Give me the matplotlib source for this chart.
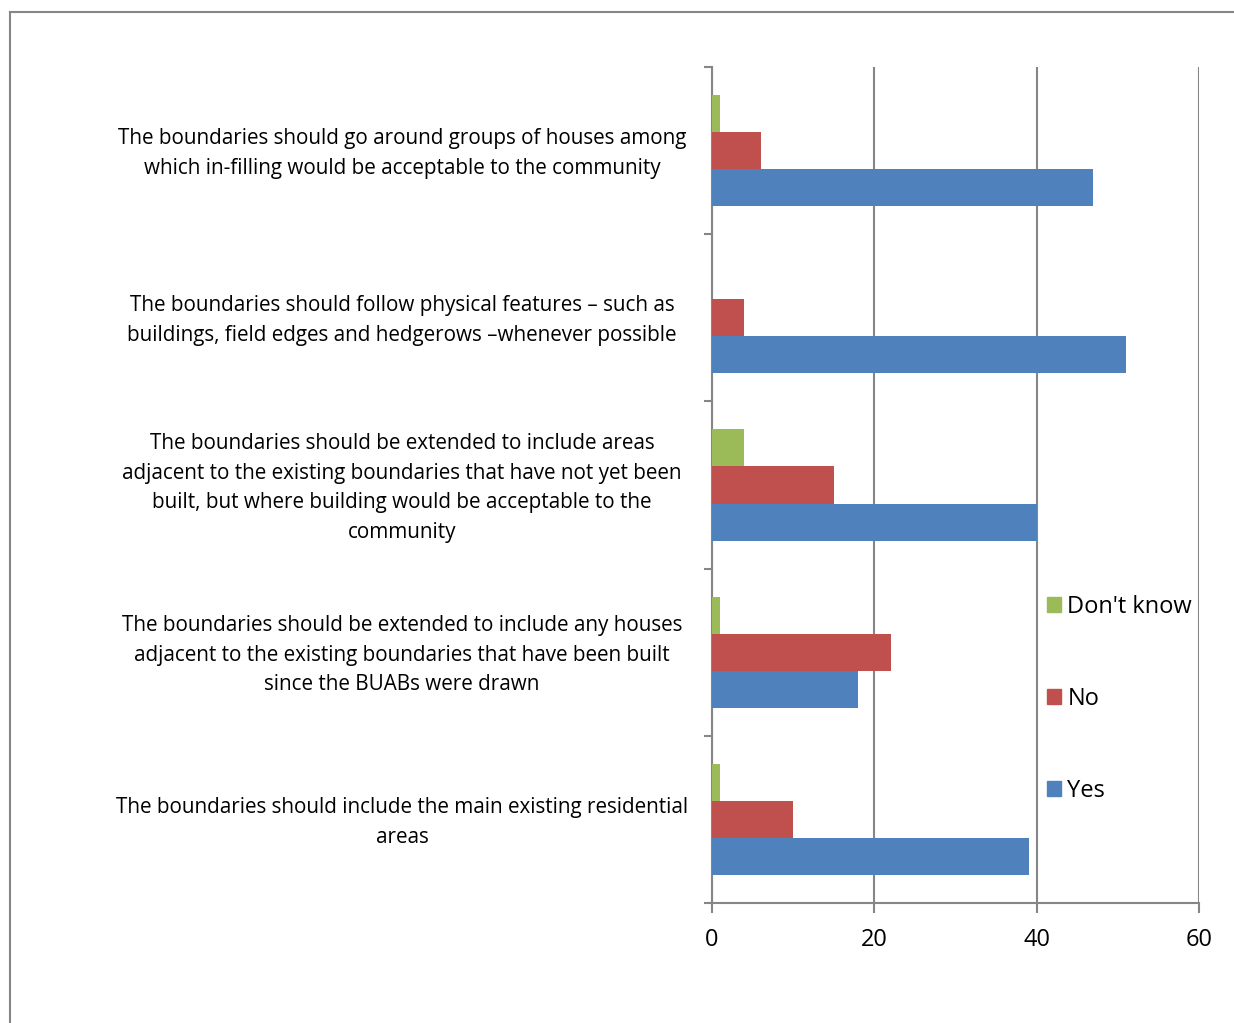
import numpy as np
import matplotlib.pyplot as plt
from matplotlib.patches import Patch
from matplotlib.lines import Line2D
from matplotlib.transforms import ScaledTranslation

plt.rcParams['font.family'] = ['Open Sans', 'DejaVu Sans']

statements = [
    "The boundaries should go around groups of houses among\nwhich in-filling would be acceptable to the community",
    "The boundaries should follow physical features \u2013 such as\nbuildings, field edges and hedgerows \u2013whenever possible",
    "The boundaries should be extended to include areas\nadjacent to the existing boundaries that have not yet been\nbuilt, but where building would be acceptable to the\ncommunity",
    "The boundaries should be extended to include any houses\nadjacent to the existing boundaries that have been built\nsince the BUABs were drawn",
    "The boundaries should include the main existing residential\nareas",
]
yes = [47, 51, 40, 18, 39]
no = [6, 4, 15, 22, 10]
dont_know = [1, 0, 4, 1, 1]

c_yes = '#4f81bd'
c_no = '#c0504d'
c_dk = '#9bbb59'
grey = '#868686'

W, H = 1234, 1023
fig = plt.figure(figsize=(W / 100, H / 100), dpi=100)
ax = fig.add_axes([712 / W, 1 - 903 / H, (1199 - 712) / W, (903 - 67) / H])

# outer chart frame, only top-left corner is on the canvas
fig.add_artist(Line2D([10 / W, 1.0], [1 - 12 / H, 1 - 12 / H], transform=fig.transFigure,
                      color=grey, lw=1.5))
fig.add_artist(Line2D([10 / W, 10 / W], [1 - 12 / H, 0.0], transform=fig.transFigure,
                      color=grey, lw=1.5))

y = np.arange(len(statements))
h = 0.222
ax.barh(y + h, yes, height=h, color=c_yes, label='Yes', zorder=3)
ax.barh(y, no, height=h, color=c_no, label='No', zorder=3)
ax.barh(y - h, dont_know, height=h, color=c_dk, label="Don't know", zorder=3)

ax.set_xlim(0, 60)
ax.set_ylim(len(statements) - 0.5, -0.5)
ax.set_xticks([0, 20, 40, 60])
ax.tick_params(axis='x', length=7, width=1.5, color=grey, labelsize=17, pad=11)
ax.xaxis.grid(True, color=grey, lw=1.5, zorder=1)

ax.set_yticks(np.arange(len(statements) + 1) - 0.5)
ax.set_yticklabels([])
ax.set_yticks(y, minor=True)
ax.set_yticklabels(statements, minor=True, multialignment='center', fontsize=14.9,
                   linespacing=1.55)
ax.tick_params(axis='y', which='major', length=6, width=1.5, color=grey)
ax.tick_params(axis='y', which='minor', length=0, pad=0)
nudge = ScaledTranslation(0, -3 / 100, fig.dpi_scale_trans)
for lbl in ax.get_yticklabels(minor=True):
    lbl.set_horizontalalignment('center')
    lbl.set_verticalalignment('center')
    lbl.set_x((402 - 712) / (1199 - 712))
    lbl.set_transform(lbl.get_transform() + nudge)

for side in ['top', 'right']:
    ax.spines[side].set_visible(False)
for side in ['left', 'bottom']:
    ax.spines[side].set_color(grey)
    ax.spines[side].set_linewidth(1.5)

handles = [Patch(color=c_dk), Patch(color=c_no), Patch(color=c_yes)]
ax.legend(handles, ["Don't know", 'No', 'Yes'], loc='upper left',
          bbox_to_anchor=(1026 / W, 1 - 574 / H), bbox_transform=fig.transFigure,
          frameon=False, fontsize=17, labelspacing=2.87, handlelength=0.6,
          handleheight=0.6, handletextpad=0.25)

fig.savefig('out.png', dpi=100)
